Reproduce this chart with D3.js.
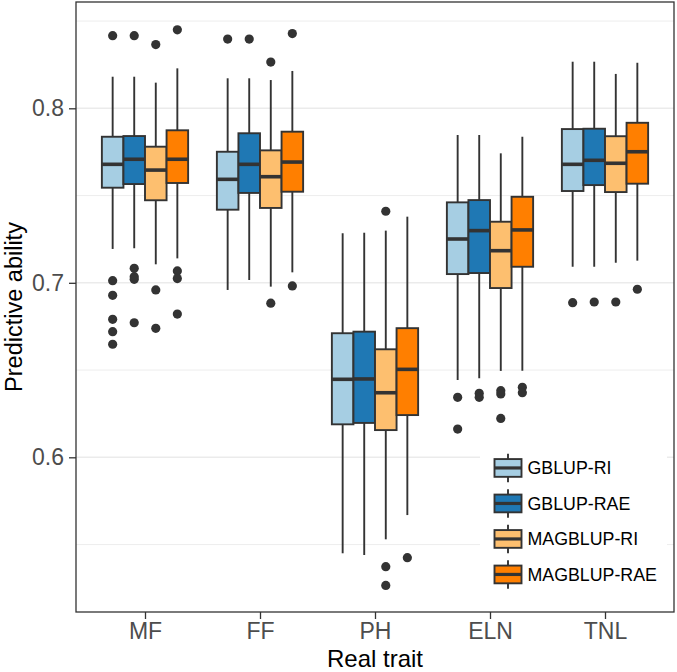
<!DOCTYPE html>
<html>
<head>
<meta charset="utf-8">
<script src="https://cdn.jsdelivr.net/npm/d3@7"></script>
<style>
  html, body { margin: 0; padding: 0; background: #ffffff; }
  svg { display: block; font-family: "Liberation Sans", Arial, Helvetica, sans-serif; }
</style>
</head>
<body>
<svg id="chart" width="677" height="672"></svg>
<script>
// ---------------- data ----------------
const traits = ["MF", "FF", "PH", "ELN", "TNL"];
const methods = ["GBLUP-RI", "GBLUP-RAE", "MAGBLUP-RI", "MAGBLUP-RAE"];
const yTicks = [0.6, 0.7, 0.8];
const yMinorTicks = [0.55, 0.65, 0.75, 0.85];

// rows: methods; columns: traits (MF, FF, PH, ELN, TNL)
const whiskerLow = [
  [0.7194, 0.6959, 0.5450, 0.6443, 0.7092],
  [0.7198, 0.7016, 0.5440, 0.6453, 0.7092],
  [0.7106, 0.6978, 0.5530, 0.6495, 0.7115],
  [0.7140, 0.7060, 0.5669, 0.6496, 0.7127]
];
const quartile1 = [
  [0.7545, 0.7419, 0.6189, 0.7050, 0.7526],
  [0.7566, 0.7515, 0.6197, 0.7056, 0.7560],
  [0.7473, 0.7429, 0.6156, 0.6970, 0.7520],
  [0.7572, 0.7522, 0.6242, 0.7092, 0.7568]
];
const medians = [
  [0.7679, 0.7593, 0.6447, 0.7251, 0.7679],
  [0.7708, 0.7679, 0.6449, 0.7299, 0.7702],
  [0.7646, 0.7608, 0.6370, 0.7184, 0.7685],
  [0.7708, 0.7692, 0.6504, 0.7303, 0.7751]
];
const quartile3 = [
  [0.7837, 0.7751, 0.6711, 0.7461, 0.7881],
  [0.7841, 0.7857, 0.6720, 0.7474, 0.7883],
  [0.7780, 0.7759, 0.6619, 0.7350, 0.7840],
  [0.7874, 0.7866, 0.6740, 0.7493, 0.7917]
];
const whiskerHigh = [
  [0.8181, 0.8172, 0.7284, 0.7847, 0.8267],
  [0.8181, 0.8172, 0.7287, 0.7847, 0.8267],
  [0.8147, 0.8162, 0.7299, 0.7742, 0.8197],
  [0.8229, 0.8214, 0.7379, 0.7837, 0.8261]
];
const outliers = [
  [[0.8416, 0.7012, 0.6928, 0.6791, 0.6720, 0.6648], [0.8397], [], [0.6344, 0.6162], [0.6886]],
  [[0.8416, 0.7083, 0.7035, 0.7020, 0.6771], [0.8397], [], [0.6367, 0.6344], [0.6890]],
  [[0.8365, 0.6959, 0.6739], [0.8265, 0.6883], [0.7410, 0.5373, 0.5266], [0.6382, 0.6363, 0.6223], [0.6890]],
  [[0.8450, 0.7068, 0.7024, 0.6821], [0.8428, 0.6982], [0.5425], [0.6401, 0.6370], [0.6963]]
];

// ---------------- styles ----------------
const fills = ["#a6cee3", "#1f78b4", "#fdbf6f", "#ff7f00"];
const ink = "#333333";

// ---------------- layout ----------------
const svg = d3.select("#chart");
const panel = { left: 76, right: 674, top: 2, bottom: 612 };

const y = d3.scaleLinear().domain([0.51135, 0.86092]).range([panel.bottom, panel.top]);
const x = d3.scalePoint().domain(traits).range([panel.left, panel.right]).padding(0.6);
const step = x.step();
const dodge = d3.scaleBand().domain(methods).range([-0.375 * step, 0.375 * step]).padding(0);
const bw = dodge.bandwidth();

// background
svg.append("rect").attr("x", panel.left).attr("y", panel.top)
  .attr("width", panel.right - panel.left).attr("height", panel.bottom - panel.top)
  .attr("fill", "#ffffff");

// grid
const grid = svg.append("g");
grid.selectAll("line.minor").data(yMinorTicks).join("line")
  .attr("class", "minor")
  .attr("x1", panel.left).attr("x2", panel.right)
  .attr("y1", d => y(d)).attr("y2", d => y(d))
  .attr("stroke", "#ebebeb").attr("stroke-width", 0.9);
grid.selectAll("line.major").data(yTicks).join("line")
  .attr("class", "major")
  .attr("x1", panel.left).attr("x2", panel.right)
  .attr("y1", d => y(d)).attr("y2", d => y(d))
  .attr("stroke", "#ebebeb").attr("stroke-width", 1.5);

// boxes
const boxes = [];
methods.forEach((m, mi) => {
  traits.forEach((t, ti) => {
    boxes.push({
      method: m, mi, trait: t,
      lo: whiskerLow[mi][ti], q1: quartile1[mi][ti], med: medians[mi][ti],
      q3: quartile3[mi][ti], hi: whiskerHigh[mi][ti], out: outliers[mi][ti]
    });
  });
});

const gBox = svg.append("g").selectAll("g").data(boxes).join("g")
  .attr("transform", d => `translate(${x(d.trait) + dodge(d.method)},0)`);

gBox.append("line")
  .attr("x1", bw / 2).attr("x2", bw / 2)
  .attr("y1", d => y(d.q3)).attr("y2", d => y(d.hi))
  .attr("stroke", ink).attr("stroke-width", 1.9);
gBox.append("line")
  .attr("x1", bw / 2).attr("x2", bw / 2)
  .attr("y1", d => y(d.q1)).attr("y2", d => y(d.lo))
  .attr("stroke", ink).attr("stroke-width", 1.9);
gBox.append("rect")
  .attr("x", 0).attr("width", bw)
  .attr("y", d => y(d.q3)).attr("height", d => y(d.q1) - y(d.q3))
  .attr("fill", d => fills[d.mi]).attr("stroke", ink).attr("stroke-width", 1.9);
gBox.append("line")
  .attr("x1", 0).attr("x2", bw)
  .attr("y1", d => y(d.med)).attr("y2", d => y(d.med))
  .attr("stroke", ink).attr("stroke-width", 3.6);
gBox.selectAll("circle").data(d => d.out).join("circle")
  .attr("cx", bw / 2).attr("cy", v => y(v)).attr("r", 4.6)
  .attr("fill", ink);

// panel border
svg.append("rect").attr("x", panel.left).attr("y", panel.top)
  .attr("width", panel.right - panel.left).attr("height", panel.bottom - panel.top)
  .attr("fill", "none").attr("stroke", ink).attr("stroke-width", 1.3);

// axes
const yAxis = svg.append("g").attr("transform", `translate(${panel.left},0)`)
  .call(d3.axisLeft(y).tickValues(yTicks).tickFormat(d3.format(".1f")).tickSize(7).tickPadding(5));
yAxis.select(".domain").remove();
yAxis.selectAll(".tick line").attr("stroke", ink).attr("stroke-width", 1.3);
yAxis.selectAll(".tick text").attr("fill", "#4d4d4d")
  .style("font-size", "23px").style("font-family", "'Liberation Sans', Arial, sans-serif");

const xAxis = svg.append("g").attr("transform", `translate(0,${panel.bottom})`)
  .call(d3.axisBottom(x).tickSize(7).tickPadding(4));
xAxis.select(".domain").remove();
xAxis.selectAll(".tick line").attr("stroke", ink).attr("stroke-width", 1.3);
xAxis.selectAll(".tick text").attr("fill", "#4d4d4d")
  .style("font-size", "23px").style("font-family", "'Liberation Sans', Arial, sans-serif");

// axis titles
svg.append("text").attr("x", (panel.left + panel.right) / 2).attr("y", 666.5)
  .attr("text-anchor", "middle").attr("fill", "#000000")
  .style("font-size", "24px").text("Real trait");
svg.append("text")
  .attr("transform", `translate(21.5,${(panel.top + panel.bottom) / 2}) rotate(-90)`)
  .attr("text-anchor", "middle").attr("fill", "#000000")
  .style("font-size", "23.5px").text("Predictive ability");

// legend
const legend = svg.append("g");
legend.append("rect").attr("x", 480).attr("y", 438).attr("width", 187).attr("height", 168)
  .attr("fill", "#ffffff");
const keyH = 35.5, keyW = 36, keyX = 490, keyY0 = 450.2;
const lk = legend.selectAll("g.key").data(methods).join("g")
  .attr("class", "key")
  .attr("transform", (d, i) => `translate(${keyX},${keyY0 + i * keyH})`);
lk.append("line")
  .attr("x1", keyW / 2).attr("x2", keyW / 2).attr("y1", keyH * 0.1).attr("y2", keyH * 0.9)
  .attr("stroke", ink).attr("stroke-width", 1.9);
lk.append("rect")
  .attr("x", keyW * 0.125).attr("width", keyW * 0.75)
  .attr("y", keyH * 0.25).attr("height", keyH * 0.5)
  .attr("fill", (d, i) => fills[i]).attr("stroke", ink).attr("stroke-width", 1.9);
lk.append("line")
  .attr("x1", keyW * 0.125).attr("x2", keyW * 0.875).attr("y1", keyH / 2).attr("y2", keyH / 2)
  .attr("stroke", ink).attr("stroke-width", 3.2);
lk.append("text")
  .attr("x", keyW + 1.5).attr("y", keyH / 2).attr("dy", "0.36em")
  .attr("fill", "#000000").style("font-size", "17.8px").text(d => d);
</script>
</body>
</html>
